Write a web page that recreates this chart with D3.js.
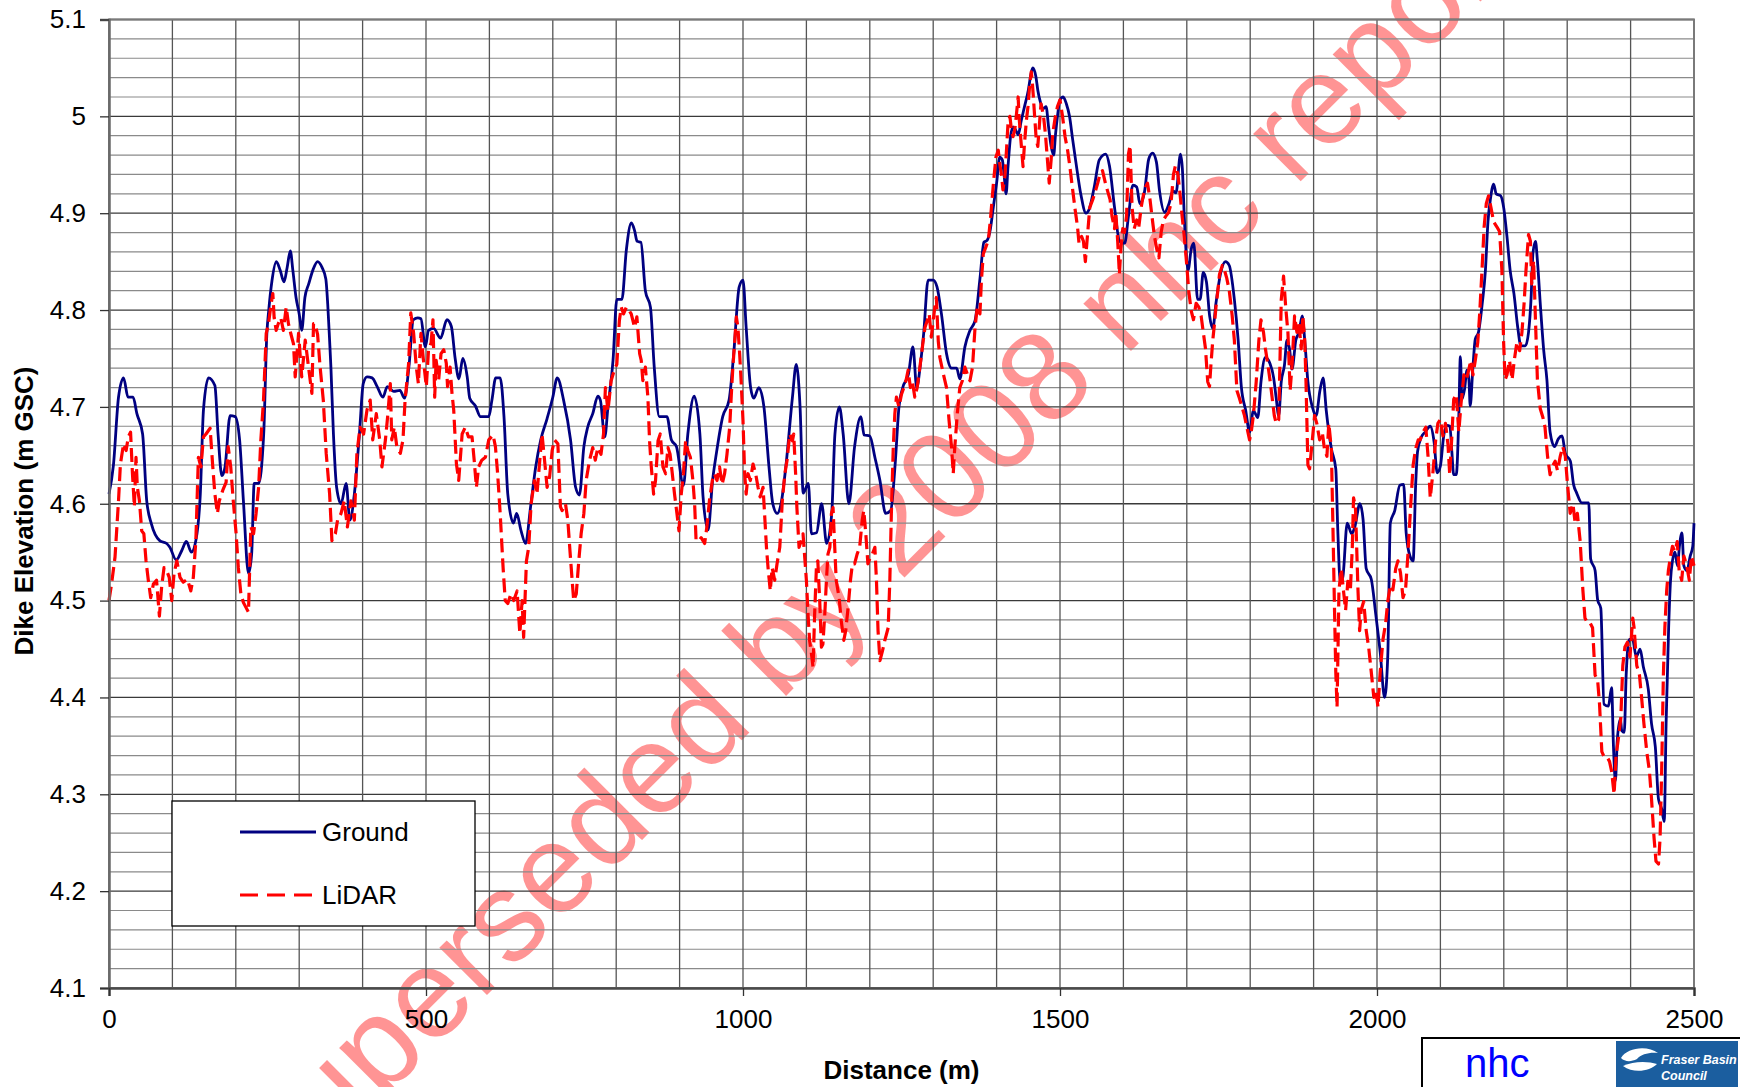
<!DOCTYPE html>
<html>
<head>
<meta charset="utf-8">
<script src="https://cdnjs.cloudflare.com/ajax/libs/d3/7.8.5/d3.min.js"></script>
<style>
  html, body { margin: 0; padding: 0; background: #ffffff; }
  svg { display: block; font-family: "Liberation Sans", Arial, Helvetica, sans-serif; }
</style>
</head>
<body>
<svg id="chart" width="1740" height="1087"></svg>
<script>
// Dike crest survey: ground survey vs LiDAR elevations along the dike (m GSC)

const groundDistance = [0,7,15,23,30,38,44,53,59.5,67,80,91,96,106,115,122,130,137,144,149,157,167,172,178,183,191,199,206,212,220,225,229,236,244,249,252,257,264,270,276,281,286,290,295,300,304,309,315,322,329,336,342,345,348,350,354,359,366,374,380,387,395,401,407,415,423,432,439,449,459,466,473,480,487,492,499,504,512,523,533,540,546,552,558,565,569,578,586,599,604,610,617,623,629,638,643,650,657,665,673,681,691,700,707,717,728,736,742,749,755,763,771,775,782,787,795,801,809,816,824,829,833,839,846,854,860,868,874,880,887,895,906,913,923,932,937,945,952,958,968,978,985,994,1000,1005,1012,1017,1025,1033,1041,1047,1054,1060,1068,1078,1084,1090,1095,1103,1108,1116,1124,1132,1140,1145,1152,1158,1167,1176,1186,1191,1200,1208,1216,1225,1233,1240,1246,1252,1261,1268,1274,1280,1285,1292,1300,1306,1313,1321,1329,1337,1342,1350,1358,1366,1374,1380,1385,1390,1395,1400,1405,1409,1412,1415,1418,1422,1426,1430,1434,1439,1444,1450,1454,1457,1462,1465,1469,1474,1478,1482,1486,1490,1493,1496,1500,1505,1510,1515,1520,1525,1533,1541,1546,1554,1562,1572,1578,1586,1594,1602,1608,1615,1621,1626,1633,1640,1646,1652,1657,1665,1672,1678,1683,1690,1693,1696,1702,1707,1711,1717,1721,1726,1731,1736,1741,1746,1753,1761,1767,1775,1781,1786,1793,1799,1805,1812,1817,1824,1831,1837,1841,1845,1849,1854,1858,1862,1866,1872,1877,1882,1886,1891,1898,1904,1910,1915,1920,1928,1935,1938,1942,1946,1953,1960,1965,1973,1978,1983,1991,1998,2005,2012,2017,2021,2028,2036,2042,2046,2052,2057,2061,2064,2070,2076,2084,2090,2095,2100,2105,2110,2115,2118,2121,2125,2129,2131.5,2134,2138,2142,2145,2147,2151,2155,2160,2166,2171,2175,2179,2184,2188,2195,2200,2205,2210,2216,2222,2227,2234,2239,2243,2246,2250,2253,2258,2263,2268,2273,2280,2286,2292,2297,2305,2310,2315,2323,2334,2337,2344,2348,2353,2358,2365,2370,2373,2376,2379,2384,2386,2390,2393,2398,2403,2409,2415,2420,2428,2433,2439,2444,2449,2453,2456,2460,2463,2466,2470,2474,2477,2481,2484,2489,2494,2498,2500];

const groundElevation = [4.61,4.64,4.71,4.73,4.71,4.71,4.693,4.672,4.603,4.579,4.562,4.559,4.555,4.542,4.552,4.561,4.55,4.562,4.61,4.697,4.73,4.722,4.672,4.629,4.638,4.691,4.69,4.666,4.603,4.528,4.548,4.621,4.621,4.672,4.776,4.80,4.83,4.85,4.841,4.829,4.844,4.861,4.841,4.813,4.796,4.779,4.813,4.827,4.842,4.85,4.844,4.832,4.806,4.768,4.741,4.672,4.617,4.60,4.621,4.583,4.61,4.672,4.724,4.731,4.73,4.721,4.71,4.721,4.716,4.717,4.709,4.741,4.79,4.792,4.791,4.762,4.779,4.781,4.771,4.79,4.783,4.75,4.729,4.75,4.731,4.709,4.701,4.69,4.69,4.707,4.73,4.73,4.69,4.61,4.58,4.59,4.572,4.559,4.597,4.638,4.666,4.688,4.71,4.73,4.707,4.666,4.617,4.609,4.659,4.679,4.693,4.711,4.707,4.669,4.70,4.748,4.811,4.811,4.862,4.89,4.882,4.871,4.87,4.82,4.803,4.741,4.69,4.69,4.69,4.666,4.659,4.619,4.672,4.711,4.672,4.607,4.573,4.624,4.652,4.69,4.707,4.752,4.824,4.831,4.782,4.72,4.709,4.72,4.70,4.638,4.60,4.59,4.60,4.641,4.71,4.744,4.70,4.611,4.621,4.569,4.57,4.60,4.559,4.59,4.672,4.70,4.672,4.60,4.659,4.69,4.671,4.67,4.648,4.624,4.59,4.593,4.641,4.70,4.72,4.734,4.762,4.72,4.745,4.776,4.831,4.831,4.824,4.796,4.755,4.74,4.74,4.729,4.762,4.779,4.789,4.834,4.87,4.872,4.883,4.907,4.931,4.958,4.955,4.938,4.92,4.948,4.979,4.989,4.986,4.981,4.996,5.01,5.027,5.043,5.05,5.041,5.027,5.015,5.008,5.01,4.989,4.969,4.96,4.982,5.00,5.017,5.02,5.013,5.00,4.976,4.953,4.919,4.90,4.904,4.927,4.955,4.961,4.949,4.906,4.871,4.869,4.897,4.929,4.927,4.91,4.921,4.956,4.962,4.953,4.923,4.901,4.91,4.923,4.921,4.961,4.946,4.897,4.841,4.863,4.869,4.811,4.811,4.839,4.829,4.794,4.781,4.807,4.837,4.85,4.846,4.811,4.769,4.721,4.696,4.674,4.696,4.689,4.726,4.751,4.745,4.73,4.709,4.691,4.726,4.743,4.769,4.76,4.739,4.769,4.777,4.794,4.769,4.726,4.70,4.691,4.717,4.73,4.696,4.657,4.636,4.576,4.52,4.524,4.58,4.569,4.576,4.60,4.584,4.533,4.522,4.486,4.447,4.40,4.443,4.58,4.593,4.619,4.62,4.57,4.546,4.541,4.62,4.654,4.669,4.674,4.68,4.664,4.632,4.639,4.669,4.681,4.68,4.654,4.63,4.63,4.689,4.752,4.708,4.718,4.738,4.728,4.701,4.738,4.77,4.777,4.807,4.841,4.891,4.915,4.93,4.92,4.918,4.905,4.876,4.841,4.817,4.782,4.763,4.763,4.777,4.812,4.859,4.871,4.851,4.802,4.758,4.728,4.674,4.659,4.667,4.67,4.652,4.644,4.62,4.611,4.601,4.601,4.543,4.531,4.501,4.492,4.393,4.391,4.41,4.349,4.314,4.356,4.378,4.366,4.364,4.423,4.46,4.46,4.442,4.45,4.432,4.408,4.373,4.349,4.295,4.285,4.272,4.373,4.472,4.521,4.541,4.55,4.536,4.556,4.57,4.536,4.531,4.546,4.556,4.58];

const lidarDistance = [0,4,9.5,15,18,23,27,30.5,34,37,40,42.6,44.7,48,51.6,55,58.4,62,65.8,70,75,79.5,83,86.8,91,95,99,102.6,107,112,117,123.7,129,133,137,141,145,149,153,159.5,163.7,167,171,174,179.5,184.7,188,192,196,200.5,204,208,212,216,220,223.7,228,232,236,239.5,243.7,248,251.6,255,258.4,260.5,263.7,267,271,275,279.5,283,287,291,293.7,299,304,309.5,314.7,320,322.6,325,329,333,338,342.6,348,351.6,357,360.5,366,371,376,381.6,387,391,396,401.6,407,412,416,421.6,427,430.5,436,439.5,443.7,446,450,454,459.5,463.7,467,472.6,476,480.5,484.7,488,492,496,500.5,504,508,511,513.7,516,520,523.7,528,532,534,538,541,543.7,548,551.6,557,562,567,572.6,576,579.5,583,588,593.7,599,605.8,609.5,613,617,621.6,625,629,634,638.4,643.7,648,651.6,654,658.4,662,665.8,671,675,679.5,683,688,691,695,699,702.6,708,712,714.7,720,723.7,727,730.5,733,737,741,744.7,749,752.6,758,763,767,771,776,780,783,787,792,797,801,805,808,811.6,816,820,823.7,829,832.6,837,839.5,842,846,850,852.6,855,859,862,866,869.5,873.7,878,881.6,885,888,892,895.8,899,902.6,906,909.5,913,917,921,923.7,926,930.5,934,939.5,943,947,951.6,955,959,963,967,971,974.7,979,981.6,984,987,989.5,992,994.7,997,1000,1002.6,1005,1008,1011.6,1015.8,1020,1023.7,1027,1031.6,1034,1037,1039.5,1043,1046,1050,1053.7,1058,1062,1066,1069.5,1073.7,1078,1080,1083,1085,1088.4,1092,1094.7,1097,1100,1102.6,1105,1108,1110.5,1113,1116,1118,1121,1123.7,1126,1129,1131.6,1134,1137,1139.5,1142,1144.7,1147,1151.6,1155,1159,1162,1165.8,1169.5,1172.6,1176,1180,1184,1188,1190.5,1193.7,1197,1201,1204,1208,1210.5,1213,1216,1220,1223.7,1229,1231.6,1234,1237,1239.5,1242,1246,1250,1253.7,1257,1260.5,1264,1267,1271,1274.7,1279,1283,1287,1290.5,1293.7,1297,1300,1302.6,1305,1308,1310.5,1316,1321,1325,1329,1331.6,1334,1338,1342,1346,1350,1353.7,1358,1362,1366,1369.5,1373.7,1376,1379,1383,1387,1390.6,1395,1399,1402.6,1405,1408,1410,1413,1415.6,1418,1421,1423.4,1426,1428.6,1431,1434,1435.4,1437.5,1439.6,1441.7,1444,1447,1449.5,1452,1454.7,1456,1458,1460,1462.5,1465,1467.7,1470,1474,1477,1479,1481,1483,1486,1488.5,1492.7,1496,1500,1504,1508,1512,1515.6,1520,1524,1527.6,1530,1534,1537,1540,1543.7,1547,1551.6,1556,1559.5,1563,1567,1571.6,1575,1579,1582,1586,1588,1591,1593.7,1596,1599,1601.6,1605,1608,1610.5,1613.7,1617,1621,1624,1628,1631.6,1635,1638,1642,1645,1649,1652.6,1656,1659.5,1663,1667,1671.6,1675,1679,1682,1686,1689.5,1692.6,1696,1700,1703,1707,1710.5,1714.7,1719,1722.6,1726,1729.5,1733,1735.8,1738,1741,1743.7,1746,1749,1751.6,1756,1759.5,1763,1767,1771.6,1775,1779,1783,1787,1791,1794.7,1799,1801.6,1805,1809.5,1813.7,1817,1821,1824,1828,1831.6,1834.7,1838,1841,1845,1849,1852.6,1856,1859.5,1863,1866,1870,1873.7,1877,1880.5,1883,1886,1888,1891,1893.7,1898,1901.6,1905,1909.5,1913.7,1917,1921,1924,1928,1930.5,1933,1935,1937,1940,1943.7,1947,1950.5,1954,1958,1961,1963,1966,1970,1972.6,1975,1979,1983,1987,1991,1995,1998,2001.6,2005,2009.5,2013.7,2017,2021,2025,2029.5,2033,2037,2041,2045,2049,2053,2057,2061,2065,2068,2072.6,2077,2080.5,2084,2088,2092.6,2096,2100,2104,2108,2112,2114.7,2118,2121,2125,2129,2132.5,2137,2141,2144.6,2148,2151.4,2155,2159,2162,2165.6,2169,2172.4,2176,2180,2184,2189,2193.4,2197,2199.7,2202,2205,2209,2213,2216.5,2220.7,2225,2228.6,2232,2235,2239,2242,2244,2247,2249.6,2253,2257.5,2261.7,2265,2269,2273,2277,2281,2284.8,2289,2293,2297,2300.5,2304.7,2309,2312.6,2316,2320.5,2324.7,2328,2332,2336,2340,2344,2348,2351,2354.6,2358,2362.5,2366.7,2370,2374,2377,2381,2384.5,2387.7,2391,2395,2399,2403.4,2405.5,2409.7,2414,2417.6,2421,2425.5,2429.7,2433,2437,2440,2444,2446.5,2449,2451.7,2454,2457,2459.6,2463,2466,2470,2473.5,2476.6,2480.6,2484,2488.5,2492.6,2496,2500];

const lidarElevation = [4.50,4.517,4.545,4.603,4.641,4.662,4.655,4.669,4.674,4.631,4.597,4.648,4.617,4.603,4.572,4.569,4.541,4.521,4.503,4.517,4.521,4.484,4.514,4.534,4.531,4.524,4.50,4.528,4.541,4.524,4.519,4.522,4.51,4.524,4.562,4.648,4.638,4.669,4.672,4.678,4.638,4.61,4.59,4.603,4.614,4.622,4.659,4.638,4.603,4.569,4.534,4.507,4.498,4.493,4.488,4.576,4.569,4.59,4.617,4.666,4.707,4.776,4.786,4.803,4.817,4.792,4.779,4.786,4.792,4.779,4.803,4.786,4.775,4.765,4.731,4.776,4.731,4.769,4.741,4.714,4.786,4.786,4.775,4.741,4.707,4.652,4.61,4.562,4.569,4.583,4.59,4.603,4.576,4.603,4.583,4.652,4.679,4.672,4.697,4.707,4.666,4.693,4.666,4.638,4.666,4.69,4.724,4.666,4.679,4.659,4.652,4.666,4.707,4.745,4.797,4.776,4.741,4.724,4.776,4.748,4.721,4.759,4.766,4.79,4.71,4.748,4.728,4.755,4.759,4.745,4.721,4.741,4.714,4.697,4.641,4.624,4.672,4.679,4.669,4.669,4.645,4.617,4.638,4.645,4.648,4.666,4.671,4.659,4.631,4.59,4.534,4.50,4.497,4.507,4.50,4.51,4.466,4.50,4.462,4.541,4.555,4.60,4.624,4.61,4.645,4.672,4.638,4.617,4.628,4.655,4.666,4.662,4.597,4.593,4.60,4.583,4.552,4.521,4.50,4.507,4.541,4.569,4.59,4.624,4.645,4.658,4.645,4.658,4.651,4.672,4.72,4.696,4.727,4.738,4.744,4.789,4.803,4.796,4.803,4.80,4.796,4.782,4.793,4.755,4.748,4.727,4.741,4.71,4.665,4.641,4.61,4.624,4.665,4.672,4.638,4.631,4.658,4.651,4.634,4.61,4.59,4.572,4.61,4.631,4.665,4.655,4.648,4.624,4.60,4.562,4.562,4.565,4.559,4.576,4.603,4.624,4.631,4.624,4.638,4.62,4.631,4.651,4.679,4.713,4.741,4.768,4.793,4.782,4.755,4.727,4.686,4.631,4.61,4.631,4.624,4.641,4.631,4.617,4.607,4.617,4.59,4.555,4.534,4.51,4.534,4.521,4.538,4.555,4.603,4.631,4.645,4.672,4.665,4.672,4.631,4.596,4.555,4.562,4.569,4.548,4.521,4.486,4.459,4.445,4.431,4.486,4.538,4.541,4.50,4.452,4.455,4.486,4.521,4.548,4.555,4.59,4.596,4.555,4.521,4.503,4.479,4.459,4.469,4.493,4.521,4.538,4.538,4.548,4.555,4.583,4.593,4.569,4.538,4.545,4.548,4.555,4.521,4.469,4.438,4.448,4.459,4.472,4.521,4.59,4.658,4.693,4.71,4.70,4.713,4.72,4.727,4.738,4.72,4.727,4.71,4.72,4.741,4.762,4.782,4.789,4.796,4.772,4.789,4.803,4.813,4.768,4.751,4.734,4.72,4.686,4.658,4.631,4.658,4.693,4.72,4.727,4.741,4.734,4.727,4.741,4.782,4.803,4.796,4.83,4.858,4.865,4.872,4.896,4.931,4.958,4.965,4.951,4.938,4.924,4.938,4.965,4.993,5.00,4.986,4.979,4.986,5.00,5.02,5.00,4.982,4.965,4.948,4.972,4.996,5.01,5.031,5.046,5.038,5.02,5.00,4.976,4.969,4.993,5.013,5.00,4.982,4.965,4.948,4.931,4.955,4.982,5.00,5.01,5.017,5.00,4.979,4.965,4.948,4.924,4.903,4.886,4.869,4.876,4.871,4.85,4.88,4.906,4.914,4.923,4.931,4.94,4.944,4.931,4.923,4.914,4.897,4.884,4.901,4.871,4.837,4.863,4.884,4.88,4.897,4.961,4.97,4.906,4.884,4.893,4.884,4.906,4.919,4.927,4.931,4.914,4.897,4.876,4.863,4.854,4.88,4.893,4.897,4.901,4.91,4.94,4.949,4.94,4.919,4.897,4.876,4.846,4.82,4.799,4.79,4.807,4.803,4.794,4.777,4.76,4.726,4.721,4.743,4.769,4.786,4.803,4.82,4.837,4.846,4.841,4.833,4.82,4.794,4.769,4.717,4.709,4.70,4.691,4.679,4.666,4.674,4.691,4.726,4.769,4.79,4.777,4.76,4.743,4.726,4.709,4.691,4.683,4.687,4.811,4.835,4.803,4.777,4.717,4.743,4.794,4.777,4.786,4.76,4.794,4.769,4.726,4.64,4.636,4.666,4.691,4.683,4.666,4.674,4.657,4.649,4.683,4.657,4.576,4.49,4.426,4.39,4.511,4.533,4.511,4.49,4.52,4.511,4.554,4.606,4.597,4.511,4.469,4.49,4.499,4.469,4.451,4.426,4.40,4.408,4.39,4.426,4.46,4.477,4.499,4.516,4.511,4.533,4.541,4.529,4.503,4.511,4.55,4.597,4.64,4.657,4.666,4.666,4.674,4.679,4.649,4.606,4.631,4.666,4.683,4.687,4.67,4.683,4.661,4.63,4.669,4.708,4.713,4.674,4.703,4.733,4.728,4.738,4.748,4.733,4.748,4.767,4.797,4.841,4.886,4.91,4.918,4.905,4.891,4.886,4.881,4.841,4.767,4.728,4.733,4.748,4.728,4.748,4.767,4.758,4.777,4.807,4.841,4.878,4.871,4.827,4.851,4.797,4.728,4.698,4.689,4.679,4.649,4.63,4.639,4.644,4.634,4.649,4.659,4.649,4.62,4.59,4.60,4.58,4.59,4.561,4.511,4.482,4.477,4.477,4.472,4.423,4.418,4.393,4.344,4.339,4.339,4.334,4.324,4.30,4.339,4.359,4.378,4.433,4.452,4.457,4.442,4.482,4.472,4.433,4.423,4.398,4.373,4.344,4.324,4.295,4.255,4.231,4.228,4.255,4.324,4.423,4.472,4.511,4.531,4.546,4.556,4.551,4.561,4.531,4.521,4.546,4.536,4.521,4.546,4.536];

const xTicks = [0, 500, 1000, 1500, 2000, 2500];
const yTicks = [4.1, 4.2, 4.3, 4.4, 4.5, 4.6, 4.7, 4.8, 4.9, 5.0, 5.1];
const yTickLabels = ["4.1", "4.2", "4.3", "4.4", "4.5", "4.6", "4.7", "4.8", "4.9", "5", "5.1"];
const seriesNames = ["Ground", "LiDAR"];

const svg = d3.select("#chart");
const plot = { left: 109, right: 1694, top: 19.5, bottom: 988 };

const x = d3.scaleLinear().domain([0, 2500]).range([plot.left, plot.right]);
const y = d3.scaleLinear().domain([4.1, 5.1]).range([plot.bottom, plot.top]);

svg.append("rect").attr("width", 1740).attr("height", 1087).attr("fill", "#ffffff");

// watermark stamped across the sheet
svg.append("text")
  .attr("transform", "translate(900,582) rotate(-45)")
  .attr("text-anchor", "middle")
  .attr("font-size", 127)
  .attr("fill", "rgba(255,0,0,0.42)")
  .text("Superseded by 2008 nhc report");

// grid
const grid = svg.append("g");
const minorY = d3.range(0, 51).map(i => 4.1 + i * 0.02);
grid.selectAll("line.hminor").data(minorY.filter((d, i) => i % 5 !== 0)).join("line")
  .attr("x1", plot.left).attr("x2", plot.right)
  .attr("y1", d => y(d)).attr("y2", d => y(d))
  .attr("stroke", "#8a8a8a").attr("stroke-width", 1.2);
grid.selectAll("line.hmajor").data(yTicks).join("line")
  .attr("x1", plot.left).attr("x2", plot.right)
  .attr("y1", d => y(d)).attr("y2", d => y(d))
  .attr("stroke", "#3a3a3a").attr("stroke-width", 1.3);
grid.selectAll("line.v").data(d3.range(100, 2500, 100)).join("line")
  .attr("x1", d => x(d)).attr("x2", d => x(d))
  .attr("y1", plot.top).attr("y2", plot.bottom)
  .attr("stroke", "#555555").attr("stroke-width", 1.3);

// plot frame
svg.append("rect")
  .attr("x", plot.left).attr("y", plot.top)
  .attr("width", plot.right - plot.left).attr("height", plot.bottom - plot.top)
  .attr("fill", "none").attr("stroke", "#7a7a7a").attr("stroke-width", 2);

// series
const ground = groundDistance.map((d, i) => [d, groundElevation[i]]);
const lidar = lidarDistance.map((d, i) => [d, lidarElevation[i]]);

svg.append("path").datum(ground)
  .attr("fill", "none").attr("stroke", "#000080").attr("stroke-width", 2.8)
  .attr("stroke-linejoin", "round")
  .attr("d", d3.line().x(d => x(d[0])).y(d => y(d[1])).curve(d3.curveMonotoneX));

svg.append("path").datum(lidar)
  .attr("fill", "none").attr("stroke", "#ff0000").attr("stroke-width", 3.2)
  .attr("stroke-dasharray", "14,6").attr("stroke-linejoin", "round")
  .attr("d", d3.line().x(d => x(d[0])).y(d => y(d[1])));

// axes
const yAxis = d3.axisLeft(y).tickValues(yTicks).tickSize(9).tickPadding(14)
  .tickFormat((d, i) => yTickLabels[i]);
const gy = svg.append("g").attr("transform", `translate(${plot.left},0)`).call(yAxis);
gy.select(".domain").attr("stroke", "#6a6a6a").attr("stroke-width", 2.5);
gy.selectAll(".tick line").attr("stroke", "#333").attr("stroke-width", 1.3);
gy.selectAll(".tick text").attr("font-size", 26).attr("fill", "#000")
  .attr("font-family", "'Liberation Sans', Arial, sans-serif");

const xAxis = d3.axisBottom(x).tickValues(xTicks).tickSize(8).tickPadding(14)
  .tickFormat(d3.format("d"));
const gx = svg.append("g").attr("transform", `translate(0,${plot.bottom})`).call(xAxis);
gx.select(".domain").attr("stroke", "#4a4a4a").attr("stroke-width", 2.5);
gx.selectAll(".tick line").attr("stroke", "#333").attr("stroke-width", 1.3);
gx.selectAll(".tick text").attr("font-size", 26).attr("fill", "#000")
  .attr("font-family", "'Liberation Sans', Arial, sans-serif");

// axis titles
svg.append("text")
  .attr("x", (plot.left + plot.right) / 2).attr("y", 1079)
  .attr("text-anchor", "middle").attr("font-size", 26).attr("font-weight", "bold")
  .text("Distance (m)");
svg.append("text")
  .attr("transform", "translate(33,511) rotate(-90)")
  .attr("text-anchor", "middle").attr("font-size", 26).attr("font-weight", "bold")
  .text("Dike Elevation (m GSC)");

// legend
const legend = svg.append("g");
legend.append("rect").attr("x", 172).attr("y", 801).attr("width", 303).attr("height", 125)
  .attr("fill", "#ffffff").attr("stroke", "#000").attr("stroke-width", 1.3);
const legendRows = [
  { name: seriesNames[0], y: 832, color: "#000080", dash: null, w: 2.8 },
  { name: seriesNames[1], y: 895, color: "#ff0000", dash: "18,9", w: 3.2 }
];
legendRows.forEach(r => {
  legend.append("line").attr("x1", 240).attr("x2", 316).attr("y1", r.y).attr("y2", r.y)
    .attr("stroke", r.color).attr("stroke-width", r.w)
    .attr("stroke-dasharray", r.dash);
  legend.append("text").attr("x", 322).attr("y", r.y + 9)
    .attr("font-size", 26).text(r.name);
});

// credits block
const credit = svg.append("g");
credit.append("rect").attr("x", 1422).attr("y", 1038).attr("width", 340).attr("height", 70)
  .attr("fill", "#ffffff").attr("stroke", "#000").attr("stroke-width", 2);
credit.append("text").attr("x", 1465).attr("y", 1077).attr("font-size", 40)
  .attr("fill", "#0000ff").text("nhc");
credit.append("rect").attr("x", 1616).attr("y", 1041).attr("width", 122).attr("height", 50)
  .attr("fill", "#1b5e9f");
credit.append("path")
  .attr("d", "M1621,1058 C1627,1047 1648,1045 1658,1053 C1650,1052 1641,1054 1637,1059 C1631,1062 1625,1062 1621,1058 Z")
  .attr("fill", "#ffffff");
credit.append("path")
  .attr("d", "M1623,1066 C1633,1061 1648,1061 1657,1064 C1650,1071 1634,1074 1623,1066 Z")
  .attr("fill", "#ffffff");
credit.append("text").attr("x", 1661).attr("y", 1064).attr("font-size", 12.5)
  .attr("font-weight", "bold").attr("font-style", "italic").attr("fill", "#ffffff")
  .text("Fraser Basin");
credit.append("text").attr("x", 1661).attr("y", 1080).attr("font-size", 12.5)
  .attr("font-weight", "bold").attr("font-style", "italic").attr("fill", "#ffffff")
  .text("Council");
</script>
</body>
</html>
